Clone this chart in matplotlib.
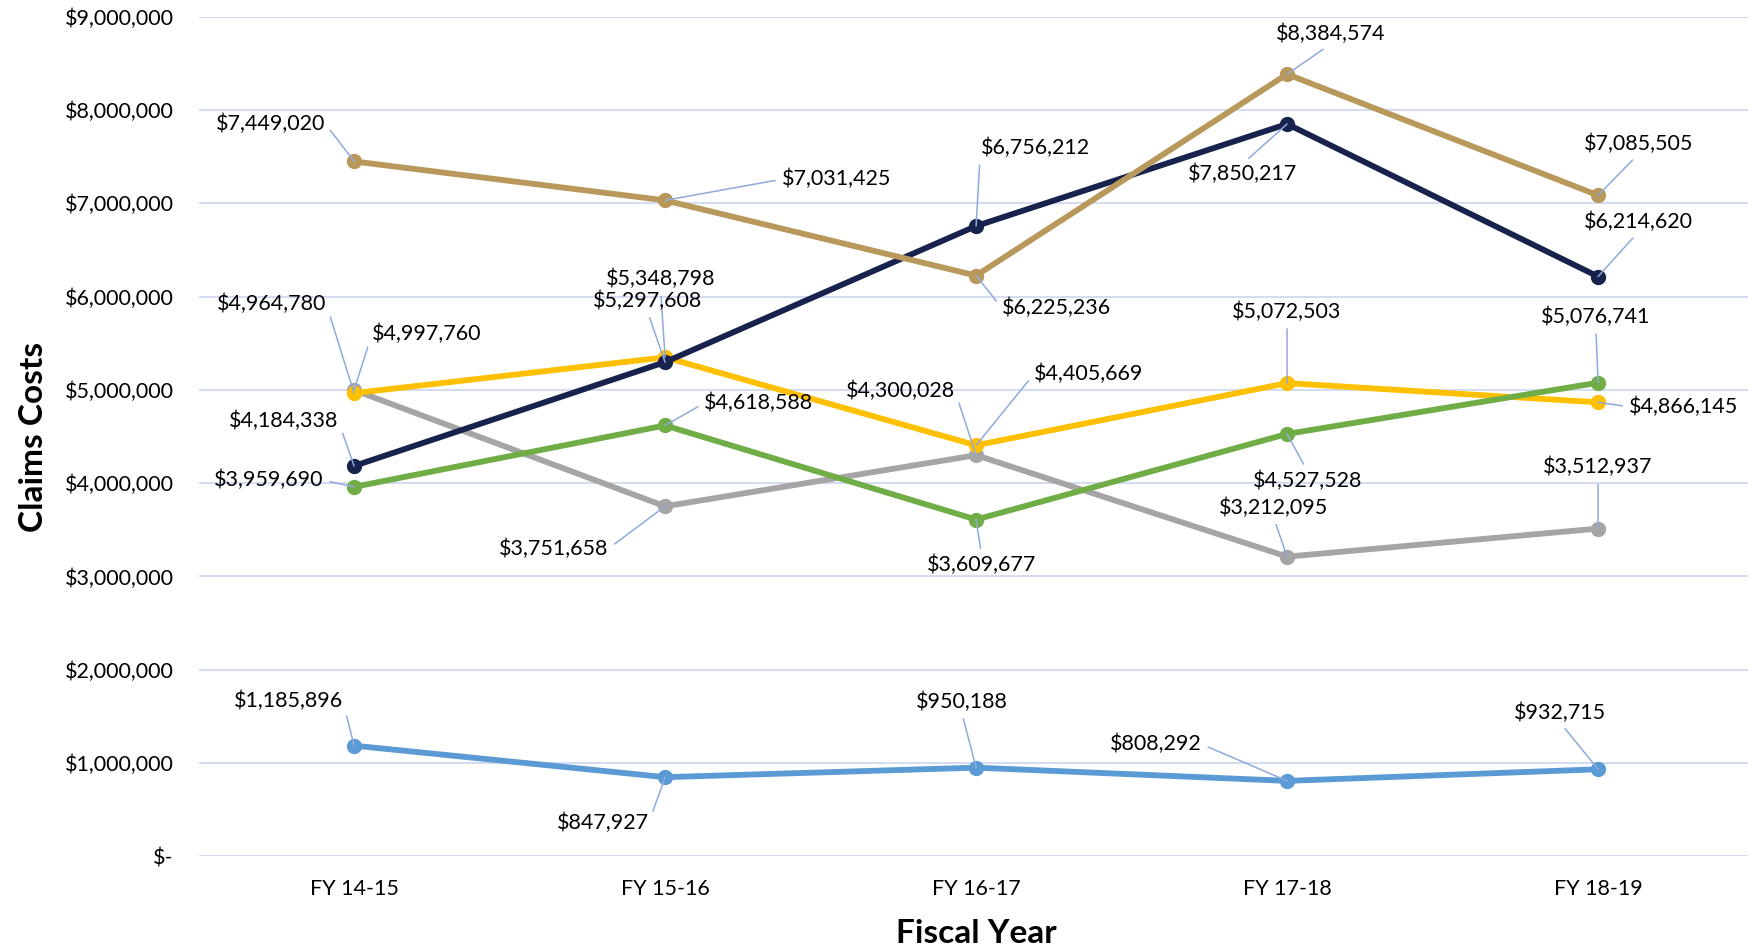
import matplotlib
matplotlib.use('Agg')
import matplotlib.pyplot as plt
from matplotlib.ticker import FuncFormatter

plt.rcParams['font.family'] = ['Lato', 'DejaVu Sans']

years = ['FY 14-15', 'FY 15-16', 'FY 16-17', 'FY 17-18', 'FY 18-19']

gray_vals = [4997760, 3751658, 4300028, 3212095, 3512937]
yellow_vals = [4964780, 5348798, 4405669, 5072503, 4866145]
navy_vals = [4184338, 5297608, 6756212, 7850217, 6214620]
tan_vals = [7449020, 7031425, 6225236, 8384574, 7085505]
green_vals = [3959690, 4618588, 3609677, 4527528, 5076741]
blue_vals = [1185896, 847927, 950188, 808292, 932715]

# label offsets (pixels of the shrunk picture, +y is down)
gray_off = [(65, -50), (-100, 38), (-68, -58), (-12, -44), (0, -55)]
yellow_off = [(-74, -80), (-4, -70), (101, -64), (0, -64), (77, 4)]
navy_off = [(-63, -40), (-16, -55), (53, -70), (-40, 45), (36, -49)]
tan_off = [(-75, -34), (154, -19), (72, 29), (39, -36), (36, -46)]
green_off = [(-77, -6), (84, -20), (5, 41), (18, 42), (-2, -59)]
blue_off = [(-59, -40), (-56, 41), (-13, -59), (-118, -33), (-34, -51)]

series = [
    (gray_vals, gray_off, '#A5A5A5'),
    (yellow_vals, yellow_off, '#FFC000'),
    (navy_vals, navy_off, '#17224D'),
    (tan_vals, tan_off, '#B8995B'),
    (green_vals, green_off, '#70AD47'),
    (blue_vals, blue_off, '#5B9BD5'),
]

scale = 1748 / 1568

fig = plt.figure(figsize=(17.48, 9.51), dpi=100)
ax = fig.add_axes([0.1136, 0.0996, 0.8896, 0.8828])

x = list(range(len(years)))
for z, (vals, offs, col) in enumerate(series):
    ax.plot(x, vals, color=col, lw=4.2, marker='o', ms=10, zorder=3 + z)
    for xi, v, (dx, dy) in zip(x, vals, offs):
        # attach leader to nearest side of the label
        if abs(dx) > 45:
            rp = (1, 0.5) if dx < 0 else (0, 0.5)
        else:
            rp = (0.5, 0) if dy < 0 else (0.5, 1)
        ax.annotate(f'${v:,.0f}', xy=(xi, v), xytext=(dx * scale, -dy * scale),
                    textcoords='offset pixels', ha='center', va='center',
                    fontsize=15.5, color='black', zorder=20,
                    arrowprops=dict(arrowstyle='-', color='#8FAADC', lw=1.1,
                                    shrinkA=3, shrinkB=0, relpos=rp),
                    annotation_clip=False)

ax.set_xlim(-0.5, 4.5)
ax.set_ylim(0, 9000000)
ax.set_yticks(range(0, 9000001, 1000000))
ax.yaxis.set_major_formatter(FuncFormatter(lambda v, p: '$-' if v == 0 else f'${v:,.0f}'))
ax.set_xticks(x)
ax.set_xticklabels(years)
ax.tick_params(axis='both', length=0, labelsize=15.5)
ax.tick_params(axis='x', pad=16)
ax.tick_params(axis='y', pad=18)
ax.grid(axis='y', color='#D0D9F0', lw=1.3)
ax.set_axisbelow(True)
for s in ax.spines.values():
    s.set_visible(False)

ax.set_ylabel('Claims Costs', fontsize=24, fontweight='bold', labelpad=12)
ax.set_xlabel('Fiscal Year', fontsize=24, fontweight='bold', labelpad=15)

fig.savefig('out.png', dpi=100)
